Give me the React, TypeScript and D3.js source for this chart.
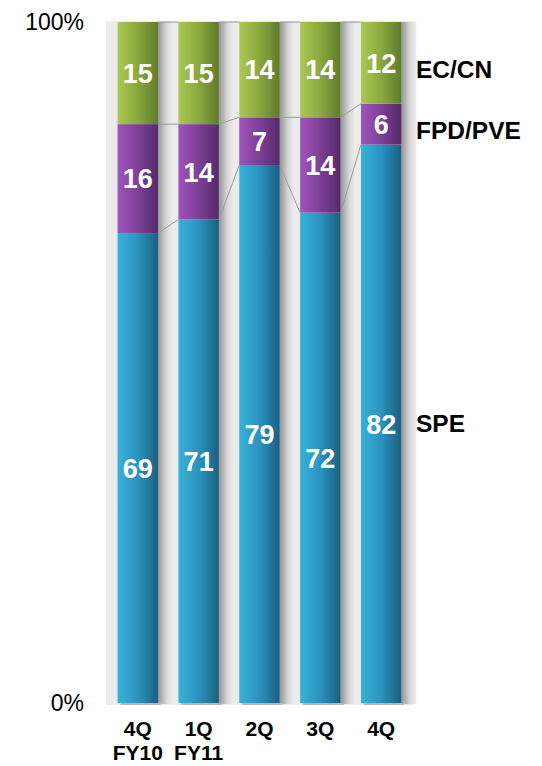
import React from "react";
import * as d3 from "d3";

const categories = ["4Q FY10", "1Q FY11", "2Q", "3Q", "4Q"];
const catLine1 = ["4Q", "1Q", "2Q", "3Q", "4Q"];
const catLine2 = ["FY10", "FY11", "", "", ""];
const seriesNames = ["SPE", "FPD/PVE", "EC/CN"];
const speValues = [69, 71, 79, 72, 82];
const fpdValues = [16, 14, 7, 14, 6];
const ecValues = [15, 15, 14, 14, 12];
const yTickLabels = [
  { v: 0, t: "0%" },
  { v: 100, t: "100%" },
];

const W = 542;
const H = 766;
const FONT = "'Liberation Sans', Arial, Helvetica, sans-serif";

const gradColors = [
  ["#36b2d8", "#2a93bf", "#1b5f80"],
  ["#a054ba", "#7d3f98", "#522a68"],
  ["#acc952", "#8aa83e", "#5f7b2b"],
];

export default function App() {
  const x = d3
    .scaleBand<string>()
    .domain(categories)
    .range([106, 413])
    .paddingInner(0.335)
    .paddingOuter(0.19);
  const y = d3.scaleLinear().domain([0, 100]).range([703, 22]);
  const bw = x.bandwidth();

  const rows = categories.map((c, i) => ({
    cat: c,
    SPE: speValues[i],
    "FPD/PVE": fpdValues[i],
    "EC/CN": ecValues[i],
  }));
  const stack = d3.stack<any>().keys(seriesNames)(rows);

  const labelDy = [8.5, 15, 15.5];

  return (
    <svg width={W} height={H} style={{ position: "absolute", left: 0, top: 0 }}>
      <defs>
        {gradColors.map((g, i) => (
          <linearGradient key={i} id={`g${i}`} x1="0" x2="1" y1="0" y2="0">
            <stop offset="0" stopColor={g[0]} />
            <stop offset="0.5" stopColor={g[1]} />
            <stop offset="1" stopColor={g[2]} />
          </linearGradient>
        ))}
        <linearGradient id="shadow" x1="0" x2="1" y1="0" y2="0">
          <stop offset="0" stopColor="#969696" />
          <stop offset="0.25" stopColor="#b2b2b2" />
          <stop offset="0.55" stopColor="#d6d6d6" />
          <stop offset="1" stopColor="#eeeeee" />
        </linearGradient>
      </defs>
      <rect x={106} y={21} width={307} height={684} fill="#ebebeb" />
      {categories.map((c) => (
        <g key={c}>
          <rect x={(x(c) as number) + bw} y={y(100)} width={15} height={y(0) - y(100) + 1} fill="url(#shadow)" />
          <rect x={(x(c) as number) + 3} y={y(0)} width={bw} height={2} fill="#b8b8b8" />
        </g>
      ))}
      {stack.map((s, si) =>
        s.map((d, i) => (
          <rect
            key={`${si}-${i}`}
            x={x(categories[i])}
            y={y(d[1])}
            width={bw}
            height={y(d[0]) - y(d[1])}
            fill={`url(#g${si})`}
          />
        ))
      )}
      {stack.map((s, si) =>
        s.slice(0, -1).map((d, i) => (
          <line
            key={`c${si}-${i}`}
            x1={(x(categories[i]) as number) + bw}
            y1={y(d[1])}
            x2={x(categories[i + 1])}
            y2={y(s[i + 1][1])}
            stroke="#9a9a9a"
            strokeWidth={1}
          />
        ))
      )}
      {stack.map((s, si) =>
        s.map((d, i) => (
          <text
            key={`t${si}-${i}`}
            x={(x(categories[i]) as number) + bw / 2}
            y={(y(d[0]) + y(d[1])) / 2}
            dy="0.36em"
            textAnchor="middle"
            fill="#ffffff"
            fontFamily={FONT}
            fontWeight="bold"
            fontSize={27}
          >
            {d[1] - d[0]}
          </text>
        ))
      )}
      {stack.map((s, si) => {
        const d = s[s.length - 1];
        return (
          <text
            key={`l${si}`}
            x={416}
            y={(y(d[0]) + y(d[1])) / 2 + labelDy[si]}
            fill="#000"
            fontFamily={FONT}
            fontWeight="bold"
            fontSize={24.5}
          >
            {seriesNames[si]}
          </text>
        );
      })}
      {yTickLabels.map((t) => (
        <text
          key={t.t}
          x={84}
          y={y(t.v) + 8}
          textAnchor="end"
          fontFamily={FONT}
          fontSize={23}
          fill="#000"
        >
          {t.t}
        </text>
      ))}
      {categories.map((c, i) => (
        <g key={`x${c}`}>
          <text x={(x(c) as number) + bw / 2} y={736} textAnchor="middle" fontFamily={FONT} fontWeight="bold" fontSize={21}>
            {catLine1[i]}
          </text>
          {catLine2[i] && (
            <text x={(x(c) as number) + bw / 2} y={760} textAnchor="middle" fontFamily={FONT} fontWeight="bold" fontSize={21}>
              {catLine2[i]}
            </text>
          )}
        </g>
      ))}
    </svg>
  );
}
